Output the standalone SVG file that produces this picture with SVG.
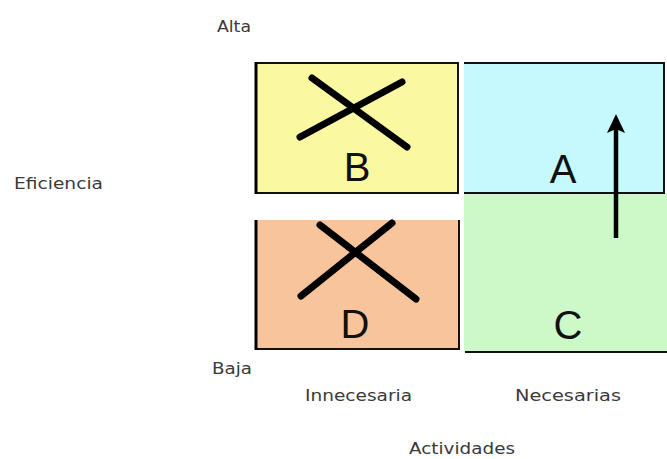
<svg xmlns="http://www.w3.org/2000/svg" width="667" height="459" viewBox="0 0 667 459">
<style>
.lbl{font-family:"DejaVu Sans",Verdana,sans-serif;font-size:15px;fill:#3a3a3a;}
.big{font-family:"Liberation Sans",Arial,sans-serif;font-size:40px;fill:#111;text-anchor:middle;}
.x{stroke:#000;stroke-width:7;stroke-linecap:round;fill:none;}
.edge{stroke:#111;fill:none;}
</style>
<rect width="667" height="459" fill="#fff"/>
<g id="B">
<rect x="256" y="63" width="202" height="130" fill="#fbf8a2" stroke="#111" stroke-width="2"/>
<line x1="256" y1="62" x2="256" y2="194" stroke="#000" stroke-width="3"/>
<line class="x" x1="312" y1="78" x2="407" y2="147"/>
<line class="x" x1="300" y1="137" x2="402" y2="82"/>
<text class="big" x="357" y="181">B</text>
</g>
<g id="C">
<rect x="464" y="193" width="203" height="159" fill="#cdf8c8"/>
<line class="edge" x1="465" y1="352" x2="667" y2="352" stroke-width="2"/>
<text class="big" x="568" y="339">C</text>
</g>
<g id="A">
<rect x="464" y="63" width="200" height="130" fill="#c6f9fd"/>
<path class="edge" d="M464,63 H664 V193 H464" stroke-width="2"/>
<text class="big" x="563" y="183">A</text>
</g>
<g id="D">
<rect x="256" y="220" width="203" height="129" fill="#f8c49b"/>
<path class="edge" d="M256,220 V349 H459 V220" stroke-width="2"/>
<line x1="256" y1="220" x2="256" y2="350" stroke="#000" stroke-width="3"/>
<line class="x" x1="320" y1="225" x2="416" y2="299"/>
<line class="x" x1="301" y1="296" x2="392" y2="223"/>
<text class="big" x="355" y="338">D</text>
</g>
<g id="connectors">
<line x1="616" y1="238" x2="616" y2="126" stroke="#000" stroke-width="4.5"/>
<path d="M607,133 L616,114 L625,133 L616,129 Z" fill="#000"/>
</g>
<g id="labels">
<text class="lbl" x="217" y="32" textLength="34" lengthAdjust="spacingAndGlyphs">Alta</text>
<text class="lbl" x="14" y="189" textLength="89" lengthAdjust="spacingAndGlyphs">Eficiencia</text>
<text class="lbl" x="212" y="374" textLength="40" lengthAdjust="spacingAndGlyphs">Baja</text>
<text class="lbl" x="305" y="401" textLength="107" lengthAdjust="spacingAndGlyphs">Innecesaria</text>
<text class="lbl" x="515" y="401" textLength="106" lengthAdjust="spacingAndGlyphs">Necesarias</text>
<text class="lbl" x="409" y="454" textLength="106" lengthAdjust="spacingAndGlyphs">Actividades</text>
</g>
</svg>
